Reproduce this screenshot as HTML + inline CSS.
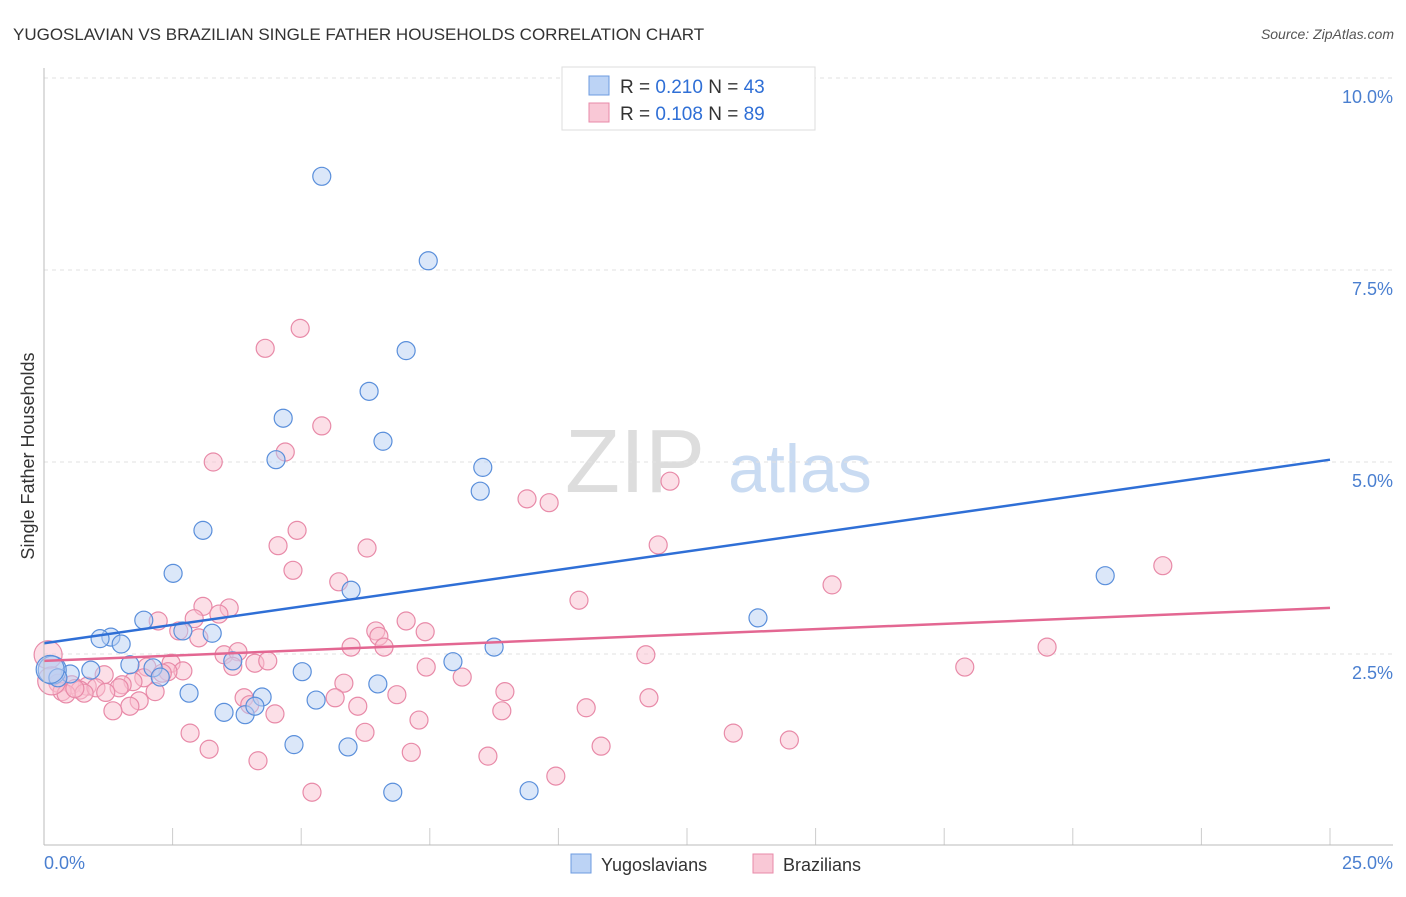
<!DOCTYPE html>
<html><head><meta charset="utf-8"><style>
body{margin:0;background:#fff;font-family:"Liberation Sans",sans-serif;}
svg text{font-family:"Liberation Sans",sans-serif;}
</style></head><body>
<svg id="c" width="1406" height="892">
<text x="13" y="40" font-size="17" fill="#333">YUGOSLAVIAN VS BRAZILIAN SINGLE FATHER HOUSEHOLDS CORRELATION CHART</text>
<text x="1394" y="39" font-size="14" fill="#555" text-anchor="end" font-style="italic">Source: ZipAtlas.com</text>
<text x="635" y="492" font-size="90" fill="#ddd" font-family="Liberation Serif" text-anchor="middle">ZIP</text>
<text x="800" y="492" font-size="68" fill="#c9dbf2" text-anchor="middle">atlas</text>
<text transform="translate(34,456) rotate(-90)" font-size="18" fill="#333" text-anchor="middle">Single Father Households</text>
<g id="grid"></g><g id="pts"></g><g id="lines"></g>
<line x1="44" y1="68" x2="44" y2="845" stroke="#bbb"/>
<line x1="44" y1="845" x2="1393" y2="845" stroke="#bbb"/>
<text x="44" y="869" font-size="18" fill="#4a7fd0">0.0%</text>
<text x="1393" y="869" font-size="18" fill="#4a7fd0" text-anchor="end">25.0%</text>
<g>
<rect x="562" y="67" width="253" height="63" fill="#fff" stroke="#ddd"/>
<rect x="589" y="76" width="20" height="19" fill="#bcd3f5" stroke="#6d9be0"/>
<rect x="589" y="103" width="20" height="19" fill="#f9c8d6" stroke="#e88aa8"/>
<text x="620" y="93" font-size="19" fill="#333">R = <tspan fill="#2f6fd6">0.210</tspan>   N = <tspan fill="#2f6fd6">43</tspan></text>
<text x="620" y="120" font-size="19" fill="#333">R = <tspan fill="#2f6fd6">0.108</tspan>   N = <tspan fill="#2f6fd6">89</tspan></text>
</g>
<g>
<rect x="571" y="854" width="20" height="19" fill="#bcd3f5" stroke="#6d9be0"/>
<text x="601" y="871" font-size="18" fill="#333">Yugoslavians</text>
<rect x="753" y="854" width="20" height="19" fill="#f9c8d6" stroke="#e88aa8"/>
<text x="783" y="871" font-size="18" fill="#333">Brazilians</text>
</g>
</svg>
<script>
const yTicks=[2.5,5,7.5,10];
const yTickLabels=["2.5%","5.0%","7.5%","10.0%"];
const xTicks=[0,2.5,5,7.5,10,12.5,15,17.5,20,22.5,25];
const blueX=[5.40,7.47,7.04,6.32,4.65,6.59,4.51,8.53,8.48,3.09,2.51,5.97,20.63,13.88,1.94,2.70,3.27,1.30,1.09,1.50,8.75,7.95,3.67,1.67,2.12,2.26,0.91,0.51,0.16,0.27,5.02,6.49,2.82,4.24,5.29,3.50,3.91,4.10,4.86,5.91,6.78,9.43,0.12];
const blueY=[8.72,7.62,6.45,5.92,5.57,5.27,5.03,4.93,4.62,4.11,3.55,3.33,3.52,2.97,2.94,2.80,2.77,2.72,2.70,2.63,2.59,2.40,2.41,2.36,2.32,2.20,2.29,2.24,2.29,2.19,2.27,2.11,1.99,1.94,1.90,1.74,1.71,1.82,1.32,1.29,0.70,0.72,2.30];
const pinkX=[4.98,4.30,5.40,4.69,3.29,12.17,9.39,9.82,4.92,4.55,6.28,11.94,21.75,4.84,5.73,15.32,10.40,3.09,3.60,3.40,2.92,2.22,7.04,2.62,6.45,7.41,3.01,6.51,5.97,6.61,19.50,11.70,3.50,3.77,4.10,4.35,3.67,2.47,2.70,2.00,17.90,7.43,2.41,1.17,1.94,8.13,5.83,1.73,1.52,0.84,1.46,0.54,0.27,0.35,0.70,1.01,0.43,0.78,2.16,8.96,6.86,3.89,5.66,11.76,1.85,1.67,4.00,6.10,10.54,1.34,8.90,4.49,7.29,6.24,2.84,13.40,14.49,10.83,3.21,7.14,8.63,4.16,9.95,5.21,0.08,0.15,0.60,1.20,2.30];
const pinkY=[6.74,6.48,5.47,5.13,5.00,4.75,4.52,4.47,4.11,3.91,3.88,3.92,3.65,3.59,3.44,3.40,3.20,3.12,3.10,3.02,2.96,2.93,2.93,2.80,2.80,2.79,2.71,2.73,2.59,2.59,2.59,2.49,2.49,2.53,2.38,2.41,2.34,2.38,2.28,2.33,2.33,2.33,2.27,2.23,2.19,2.20,2.12,2.14,2.10,2.08,2.06,2.10,2.12,2.01,2.03,2.06,1.98,1.99,2.01,2.01,1.97,1.93,1.93,1.93,1.89,1.82,1.84,1.82,1.80,1.76,1.76,1.72,1.64,1.48,1.47,1.47,1.38,1.30,1.26,1.22,1.17,1.11,0.91,0.70,2.49,2.15,2.05,2.00,2.25];
const blueTrend=[2.64,5.03];
const pinkTrend=[2.41,3.10];
const NS="http://www.w3.org/2000/svg";
const xs=v=>44+v/25*1286, ys=v=>846-v*76.8;
function mk(t,a,p){const e=document.createElementNS(NS,t);for(const k in a)e.setAttribute(k,a[k]);document.getElementById(p).appendChild(e);return e;}
yTicks.forEach((t,i)=>{
 const l=mk('line',{x1:44,x2:1393,y1:ys(t),y2:ys(t),stroke:'#e2e2e2','stroke-dasharray':'4,4'},'grid');
 
 
 const tx=mk('text',{x:1393,y:ys(t)+25,'font-size':18,fill:'#4a7fd0','text-anchor':'end'},'grid');
 tx.textContent=yTickLabels[i];
 
 
});
xTicks.forEach(t=>{
 const l=mk('line',{x1:xs(t),x2:xs(t),y1:828,y2:845,stroke:'#ccc'},'grid');
 
 
});
function pts(X,Y,f,s,n){X.forEach((x,i)=>{const big=x<0.2;
 const c=mk('circle',{cx:xs(x),cy:ys(Y[i]),r:big?14:9,fill:f,'fill-opacity':0.5,stroke:s,'stroke-width':1.2},'pts');
 
 });}
pts(pinkX,pinkY,'#f9c0d0','#e88aa8','brazilian-point');
pts(blueX,blueY,'#b8d0f3','#5a8fdb','yugoslavian-point');
const bl=mk('line',{x1:xs(0),y1:ys(blueTrend[0]),x2:xs(25),y2:ys(blueTrend[1]),stroke:'#2f6fd6','stroke-width':2.5},'lines');


const pl=mk('line',{x1:xs(0),y1:ys(pinkTrend[0]),x2:xs(25),y2:ys(pinkTrend[1]),stroke:'#e36792','stroke-width':2.5},'lines');


</script>
</body></html>
